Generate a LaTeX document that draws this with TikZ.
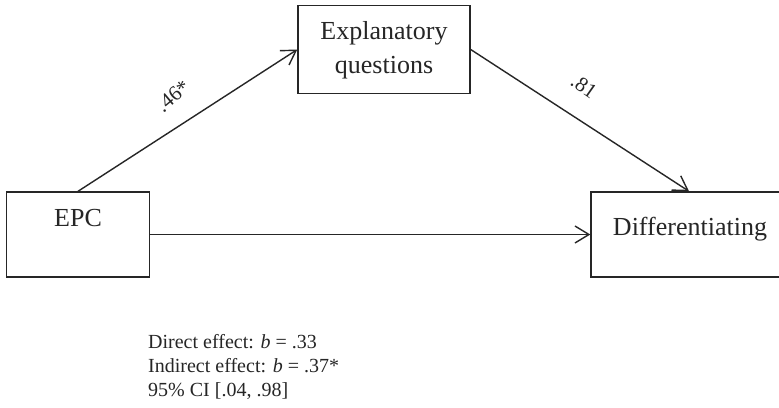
\documentclass[tikz,border=0pt]{standalone}
\usepackage{fontspec}
\setmainfont{Liberation Serif}
\usetikzlibrary{arrows.meta}
\begin{document}
\begin{tikzpicture}[x=1pt,y=-1pt,
  boxstyle/.style={draw=black!85, line width=1.4pt},
  boxtext/.style={inner sep=0pt, font=\fontsize{26}{34}\selectfont, align=center, text=black!85},
  pathlabel/.style={inner sep=0pt, font=\fontsize{21}{24}\selectfont, text=black!85},
  conn/.style={draw=black!85, line width=1.4pt, -{Straight Barb[length=14pt, width=17pt, line width=1.4pt]}},
  notes/.style={inner sep=0pt, font=\fontsize{20}{24}\selectfont, align=left, text=black!85, anchor=north west}]
\useasboundingbox (0,0) rectangle (779,407);
\fill[white] (0,0) rectangle (779,407);
% boxes
\node[boxstyle, minimum width=143pt, minimum height=85pt, inner sep=0pt] (epc) at (78,234.5) {};
\node[boxstyle, minimum width=172pt, minimum height=88pt, inner sep=0pt] (exq) at (384,49.5) {};
\node[boxstyle, minimum width=196pt, minimum height=85pt, inner sep=0pt] (dif) at (689,234.5) {};
% texts
\node[boxtext] (epct) at (78,218) {EPC};
\node[boxtext] (exqt) at (384,50) {Explanatory\\[-0.3pt]questions};
\node[boxtext] (dift) at (690,229) {Differentiating};
% connectors
\draw[conn] (epc.north) -- (exq.west);
\draw[conn] (exq.east) -- (dif.north);
\draw[conn] (epc.east) -- (dif.west);
% labels
\node[pathlabel, rotate=40] (la) at (173,96) {.46*};
\node[pathlabel, rotate=-35] (lb) at (584,86) {.81};
% notes
\node[notes] (nt) at (148,334) {Direct effect: \textit{b} = .33\\Indirect effect: \textit{b} = .37*\\95\% CI [.04, .98]};
\end{tikzpicture}
\end{document}
